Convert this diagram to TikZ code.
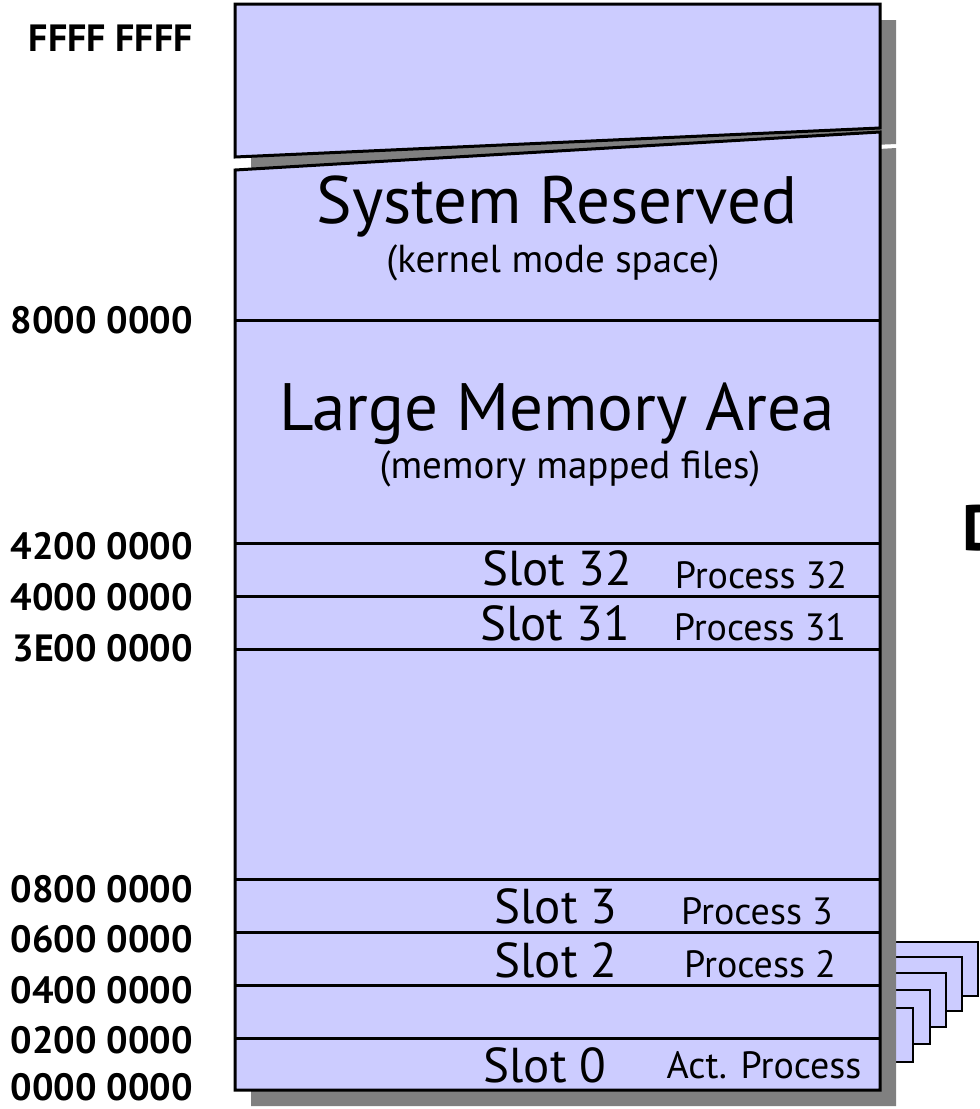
\documentclass[tikz,border=0pt]{standalone}
\usepackage{fontspec}
\setmainfont{PT Sans}
\usepackage{tikz}
\usetikzlibrary{calc}

\definecolor{slotblue}{HTML}{CCCCFF}
\definecolor{shadowgray}{HTML}{808080}

\begin{document}
\begin{tikzpicture}[x=1pt, y=-1pt,
  piece/.style={draw=black, line width=3pt, fill=slotblue},
  shade/.style={fill=shadowgray},
  addr/.style={anchor=east, inner sep=0pt, font=\fontsize{38}{40}\selectfont\bfseries},
  title/.style={anchor=base, inner sep=0pt, font=\fontsize{67}{72}\selectfont},
  subtitle/.style={anchor=base, inner sep=0pt, font=\fontsize{39}{42}\selectfont},
  slotname/.style={anchor=base, inner sep=0pt, font=\fontsize{49}{52}\selectfont},
  procname/.style={anchor=base, inner sep=0pt, font=\fontsize{38}{40}\selectfont}]

  \useasboundingbox (0,0) rectangle (980,1109);

  % Process copies stacked behind slot 0
  \foreach \r/\t in {978/942, 962/957, 946/973, 930/990, 913/1008}
    \draw[piece, line width=2.5pt] (860,\t) rectangle (\r,\t+54);

  % Drop shadows
  \begin{scope}[shift={(16,16)}]
    \fill[shade] (235,4) -- (880,4) -- (880,128) -- (235,157) -- cycle;
    \fill[shade] (235,170) -- (880,132) -- (880,1090) -- (235,1090) -- cycle;
  \end{scope}

  % Upper piece, above the break
  \draw[piece] (235,4) -- (880,4) -- (880,128) -- (235,157) -- cycle;
  % Lower piece
  \draw[piece] (235,170) -- (880,132) -- (880,1090) -- (235,1090) -- cycle;

  % Region borders
  \foreach \y in {320,543,596,649,879,932,985,1038}
    \draw[line width=3pt] (235,\y) -- (880,\y);

  % Addresses
  \node[addr] (aFFFF) at (193,38) {FFFF FFFF};
  \node[addr] (a8000) at (193,320) {8000 0000};
  \node[addr] (a4200) at (193,546) {4200 0000};
  \node[addr] (a4000) at (193,597) {4000 0000};
  \node[addr] (a3E00) at (193,648) {3E00 0000};
  \node[addr] (a0800) at (193,889) {0800 0000};
  \node[addr] (a0600) at (193,939) {0600 0000};
  \node[addr] (a0400) at (193,990) {0400 0000};
  \node[addr] (a0200) at (193,1040) {0200 0000};
  \node[addr] (a0000) at (193,1087) {0000 0000};

  % Regions
  \node[title] (sysres) at (557,223) {System Reserved};
  \node[subtitle] (kernel) at (553,272) {(kernel mode space)};
  \node[title] (lma) at (557,430) {Large Memory Area};
  \node[subtitle] (mmf) at (570,478) {(memory mapped files)};

  % Slots
  \node[slotname] (slot32) at (557,585) {Slot 32};
  \node[procname] (proc32) at (761,588) {Process 32};
  \node[slotname] (slot31) at (555,640) {Slot 31};
  \node[procname] (proc31) at (760,640) {Process 31};
  \node[slotname] (slot3) at (556,923) {Slot 3};
  \node[procname] (proc3) at (757,924) {Process 3};
  \node[slotname] (slot2) at (556,977) {Slot 2};
  \node[procname] (proc2) at (760,977) {Process 2};
  \node[slotname] (slot0) at (545,1082) {Slot 0};
  \node[procname] (proc0) at (764,1078) {Act. Process};

  % cut letter at the right edge
  \node[anchor=base west, inner sep=0pt, font=\fontsize{64}{70}\selectfont\bfseries] (cutD) at (962,550) {D};

\end{tikzpicture}
\end{document}
